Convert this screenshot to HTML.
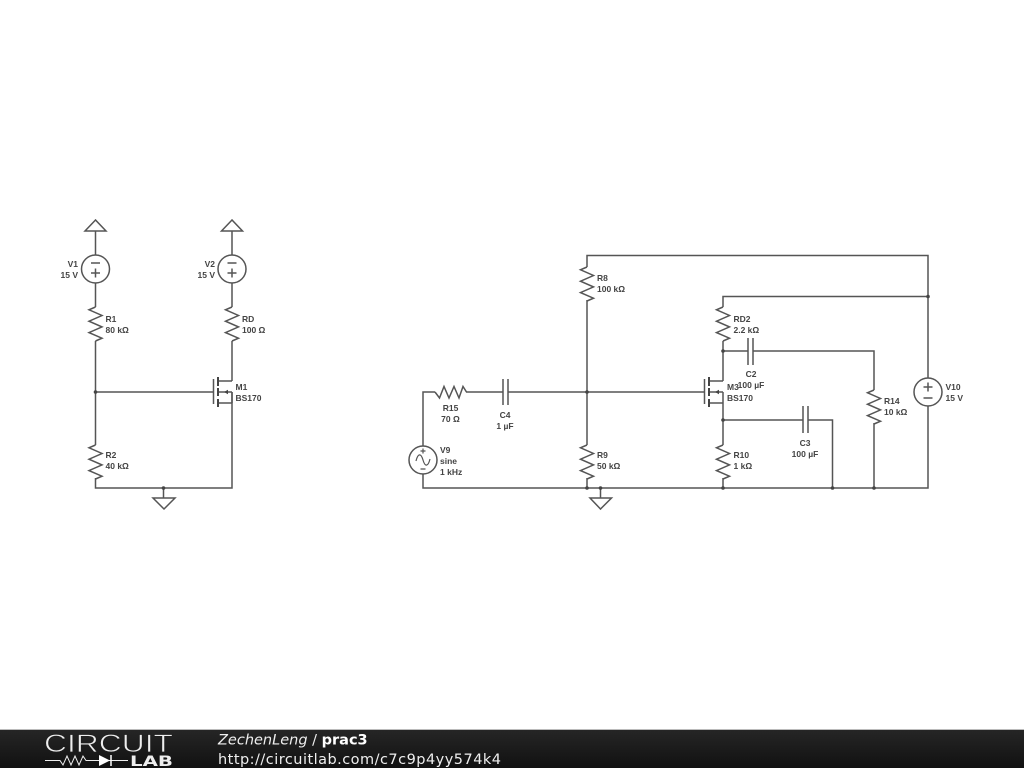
<!DOCTYPE html>
<html>
<head>
<meta charset="utf-8">
<style>
html,body{margin:0;padding:0;background:#fff;width:1024px;height:768px;overflow:hidden}
svg{display:block}
.w{fill:none;stroke:#555;stroke-width:1.5}
.b{fill:none;stroke:#444;stroke-width:2}
.l{font-family:"Liberation Sans",sans-serif;font-size:8.5px;font-weight:bold;fill:#444}
.e{text-anchor:end}
.m{text-anchor:middle}
.d{fill:#444}
</style>
</head>
<body>
<svg width="1024" height="768" viewBox="0 0 1024 768" xmlns="http://www.w3.org/2000/svg">
<defs>
<linearGradient id="g" x1="0" y1="0" x2="0" y2="1"><stop offset="0" stop-color="#262626"/><stop offset="1" stop-color="#111"/></linearGradient>
<polyline id="r" points="0,0 -6.5,2.8 6.5,8.5 -6.5,14.2 6.5,19.9 -6.5,25.6 6.5,31.2 0,34" class="w"/>
<g id="mos">
<path class="w" d="M-18.5,-13 V12 M0,-11 H-14 M0,0 H-14 M0,11 H-14 M0,11 V0"/>
<path class="b" d="M-14,-15 V-6 M-14,-4 V4 M-14,7 V15"/>
<path class="d" d="M-8,0 L-4,-2.2 V2.2Z"/>
</g>
</defs>
<rect width="1024" height="768" fill="#fff"/>

<!-- Left circuit wires -->
<path class="w" d="M95.5,220 L85,231 H106 Z M95.5,231 V255 M95.5,283 V307 M95.5,341 V445 M95.5,478 V488 H232 V392 M95.5,392 H213.5"/>
<path class="w" d="M232,220 L221.5,231 H242.5 Z M232,231 V255 M232,283 V307 M232,341 V381"/>
<path class="w" d="M163.5,488 V498 M153,498 H175 L164,509 Z"/>
<circle class="w" cx="95.5" cy="269" r="14"/>
<circle class="w" cx="232" cy="269" r="14"/>
<path class="w" d="M91,263 H100 M91,273 H100 M95.5,268.500 V277.500"/>
<path class="w" d="M227.500,263 H236.500 M227.500,273 H236.500 M232,268.500 V277.500"/>
<use href="#r" x="95.5" y="307"/>
<use href="#r" x="232" y="307"/>
<use href="#r" x="95.5" y="445"/>
<use href="#mos" x="232" y="392"/>
<circle class="d" cx="95.5" cy="392" r="1.8"/>
<circle class="d" cx="163.5" cy="488" r="1.8"/>

<text class="l e" x="78" y="267">V1</text>
<text class="l e" x="78" y="278">15 V</text>
<text class="l e" x="215" y="267">V2</text>
<text class="l e" x="215" y="278">15 V</text>
<text class="l" x="105.500" y="322">R1</text>
<text class="l" x="105.500" y="333">80 kΩ</text>
<text class="l" x="242" y="322">RD</text>
<text class="l" x="242" y="333">100 Ω</text>
<text class="l" x="105.500" y="458">R2</text>
<text class="l" x="105.500" y="469">40 kΩ</text>
<text class="l" x="235.500" y="390">M1</text>
<text class="l" x="235.500" y="401">BS170</text>

<!-- Right circuit wires -->
<path class="w" d="M587,300 V445 M587,478 V488 M587,267 V255.500 H928 V378 M928,406 V488 H423 V474 M423,446 V392 H435"/>
<path class="w" d="M466,392 H503 M508,392 H704.500"/>
<path class="w" d="M723,307 V296.500 H928 M723,341 V381 M723,403 V445 M723,478 V488"/>
<path class="w" d="M723,351 H748 M753,351 H874 V390 M874,423 V488"/>
<path class="w" d="M723,420 H803 M808,420 H832.500 V488"/>
<path class="w" d="M600.500,488 V498 M590,498 H611.500 L600.500,509 Z"/>
<polyline class="w" points="435,392 439.500,398 444,386.500 449,398 454,386.500 459,398 463,386.500 466.500,392"/>
<path class="w" d="M503,379 V405 M508,379 V405 M748,338 V365 M753,338 V365 M803,406 V433 M808,406 V433"/>
<use href="#r" x="587" y="267"/>
<use href="#r" x="587" y="445"/>
<use href="#r" x="723" y="307"/>
<use href="#r" x="723" y="445"/>
<use href="#r" x="874" y="390"/>
<use href="#mos" x="723" y="392"/>
<circle cx="423" cy="460" r="14" fill="#fff" stroke="#555" stroke-width="1.5"/>
<path fill="none" stroke="#555" stroke-width="1.2" d="M416,461 C418,453 421,453 423,460 C425,467 428,467 430,459 M423,448.500 V453.500 M420.500,451 H425.500 M420.500,469 H425.500"/>
<circle cx="928" cy="392" r="14" fill="#fff" stroke="#555" stroke-width="1.5"/>
<path class="w" d="M923.500,387 H932.500 M928,382.500 V391.500 M923.500,398 H932.500"/>
<circle class="d" cx="587" cy="392" r="1.8"/>
<circle class="d" cx="587" cy="488" r="1.8"/>
<circle class="d" cx="600.500" cy="488" r="1.8"/>
<circle class="d" cx="723" cy="351" r="1.8"/>
<circle class="d" cx="723" cy="420" r="1.8"/>
<circle class="d" cx="723" cy="488" r="1.8"/>
<circle class="d" cx="832.500" cy="488" r="1.8"/>
<circle class="d" cx="874" cy="488" r="1.8"/>
<circle class="d" cx="928" cy="296.500" r="1.8"/>

<text class="l" x="597" y="281">R8</text>
<text class="l" x="597" y="292">100 kΩ</text>
<text class="l m" x="450.500" y="411">R15</text>
<text class="l m" x="450.500" y="422">70 Ω</text>
<text class="l m" x="505" y="418">C4</text>
<text class="l m" x="505" y="429">1 µF</text>
<text class="l" x="440" y="453">V9</text>
<text class="l" x="440" y="464">sine</text>
<text class="l" x="440" y="475">1 kHz</text>
<text class="l" x="597" y="458">R9</text>
<text class="l" x="597" y="469">50 kΩ</text>
<text class="l" x="733.500" y="322">RD2</text>
<text class="l" x="733.500" y="333">2.2 kΩ</text>
<text class="l m" x="751" y="377">C2</text>
<text class="l m" x="751" y="388">100 µF</text>
<text class="l" x="727" y="390">M3</text>
<text class="l" x="727" y="401">BS170</text>
<text class="l m" x="805" y="446">C3</text>
<text class="l m" x="805" y="457">100 µF</text>
<text class="l" x="733.500" y="458">R10</text>
<text class="l" x="733.500" y="469">1 kΩ</text>
<text class="l" x="884" y="404">R14</text>
<text class="l" x="884" y="415">10 kΩ</text>
<text class="l" x="945.500" y="390">V10</text>
<text class="l" x="945.500" y="401">15 V</text>

<!-- Footer -->
<rect x="0" y="729" width="1024" height="39" fill="url(#g)"/>
<rect x="0" y="729" width="1024" height="1" fill="#bbb"/>
<text x="44" y="752" font-family="'Liberation Sans',sans-serif" font-size="25" fill="#eee" stroke="#1f1f1f" stroke-width="0.7" textLength="129" lengthAdjust="spacingAndGlyphs">CIRCUIT</text>
<polyline fill="none" stroke="#eee" stroke-width="1" points="45,760.500 60,760.500 63,765 67,756 71,765 75,756 79,765 83,756 86,760.500 128,760.500"/>
<path d="M99,755 L110,760.500 L99,766 Z" fill="#fff"/>
<path d="M111,755 V766" stroke="#fff" stroke-width="1.500"/>
<text x="130" y="766" font-family="'DejaVu Sans',sans-serif" font-size="14.500" font-weight="bold" fill="#eee" textLength="43" lengthAdjust="spacingAndGlyphs">LAB</text>
<text x="218" y="744.500" font-family="'DejaVu Sans',sans-serif" font-size="14.500" fill="#eee"><tspan font-style="italic">ZechenLeng</tspan> / <tspan font-weight="bold" fill="#fff">prac3</tspan></text>
<text x="218" y="764" font-family="'DejaVu Sans',sans-serif" font-size="14.500" fill="#eee" textLength="283">http://circuitlab.com/c7c9p4yy574k4</text>
</svg>
</body>
</html>
